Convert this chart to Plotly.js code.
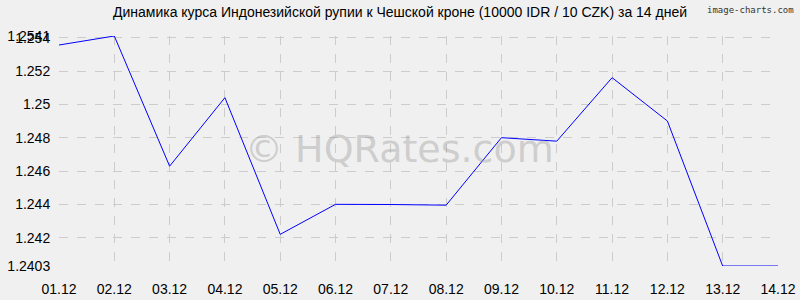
<!DOCTYPE html>
<html><head><meta charset="utf-8">
<script src="https://cdn.plot.ly/plotly-3.0.1.min.js"></script>
<style>body{margin:0;background:#f0f0f0}#c{width:800px;height:300px}</style>
</head><body><div id="c"></div>
<script>
const dates = ["01.12","02.12","03.12","04.12","05.12","06.12","07.12","08.12","09.12","10.12","11.12","12.12","13.12","14.12"];
const rates = [1.25356,1.2541,1.24629,1.2504,1.2422,1.244,1.24399,1.24395,1.248,1.24779,1.2516,1.249,1.2403,1.2403];
const yTicks = [1.2403,1.242,1.244,1.246,1.248,1.25,1.252,1.254,1.2541];
const yLabels = ["1.2403","1.242","1.244","1.246","1.248","1.25","1.252","1.254","1.2541"];
const titleText = "Динамика курса Индонезийской рупии к Чешской кроне (10000 IDR / 10 CZK) за 14 дней";

Plotly.newPlot("c", [{
  x: dates, y: rates, type: "scatter", mode: "lines",
  line: {color: "#0000ff", width: 1}
}], {
  width: 800, height: 300,
  paper_bgcolor: "#f0f0f0", plot_bgcolor: "#f0f0f0",
  margin: {l: 59, r: 22, t: 36, b: 34},
  title: {text: titleText, font: {family: "Arial, Liberation Sans", size: 14, color: "#000"}, x: 0.5, xanchor: "center", y: 0.975, yanchor: "top"},
  showlegend: false,
  font: {family: "Arial, Liberation Sans", color: "#000"},
  xaxis: {type: "category", range: [0, 13], showgrid: true, gridcolor: "#cccccc", griddash: "dash", gridwidth: 1,
    zeroline: false, showline: false, ticks: "outside", ticklen: 10, tickcolor: "rgba(0,0,0,0)", tickfont: {size: 14}, fixedrange: true},
  yaxis: {range: [1.2403, 1.2541], tickvals: yTicks, ticktext: yLabels, showgrid: true, gridcolor: "#cccccc",
    griddash: "dash", gridwidth: 1, zeroline: false, showline: false, ticks: "outside", ticklen: 5, tickcolor: "rgba(0,0,0,0)", tickfont: {size: 14}, automargin: false},
  annotations: [
    {text: "© HQRates.com", xref: "paper", yref: "paper", x: 0.474, y: 0.51, showarrow: false,
     font: {family: "DejaVu Sans, Verdana", size: 38, color: "rgba(150,150,150,0.4)"}},
    {text: "image-charts.com", xref: "paper", yref: "paper", x: 1.025, y: 1.145, xanchor: "right", yanchor: "top", showarrow: false,
     font: {family: "DejaVu Sans Mono, monospace", size: 9, color: "#333"}}
  ]
}, {displayModeBar: false, staticPlot: true});
</script></body></html>
